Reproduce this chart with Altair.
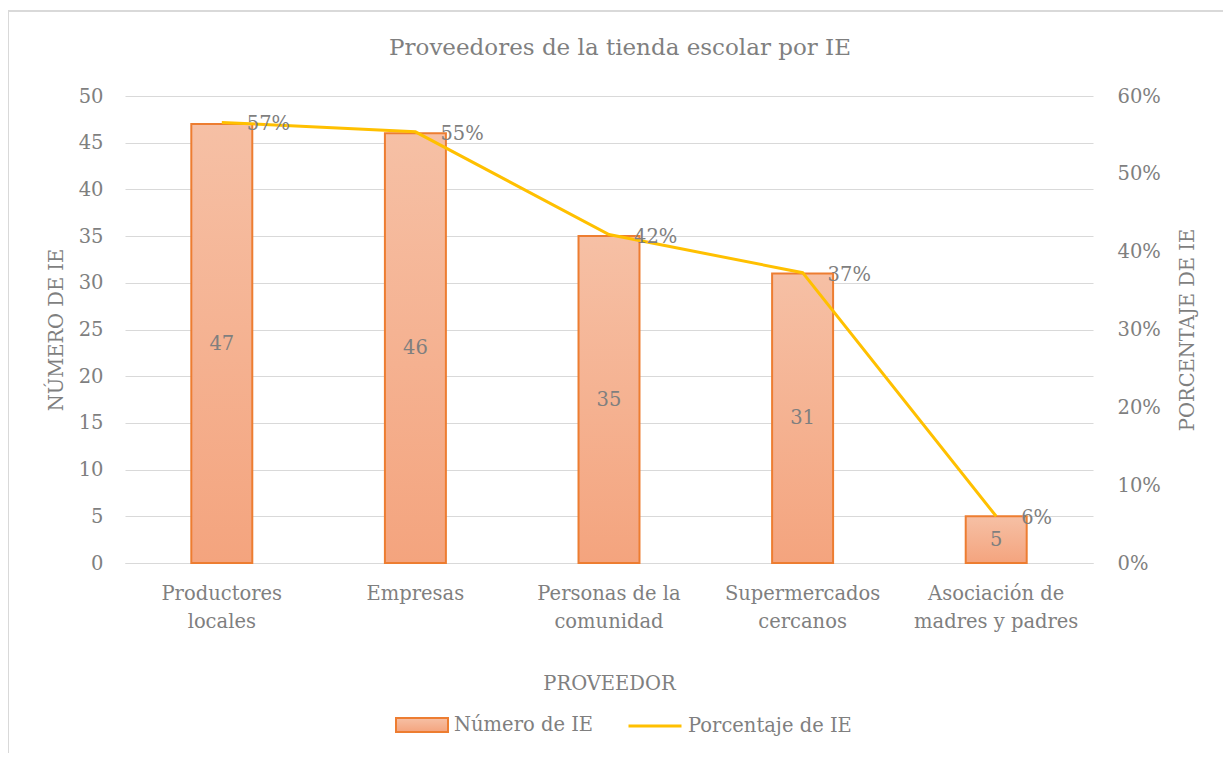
import altair as alt
import pandas as pd

categories = ["Productores locales", "Empresas", "Personas de la comunidad",
              "Supermercados cercanos", "Asociación de madres y padres"]
label_lines = [["Productores", "locales"], ["Empresas"], ["Personas de la", "comunidad"],
               ["Supermercados", "cercanos"], ["Asociación de", "madres y padres"]]
counts = [47, 46, 35, 31, 5]
percents = [0.566, 0.554, 0.422, 0.373, 0.060]
left_ticks = [0, 5, 10, 15, 20, 25, 30, 35, 40, 45, 50]
right_ticks = [0, 0.1, 0.2, 0.3, 0.4, 0.5, 0.6]

FONT = "DejaVu Serif"
GRAY = "#7F7F7F"
GRID = "#D9D9D9"
BAR_STROKE = "#ED7D31"
LINE_COLOR = "#FFC000"

df = pd.DataFrame({
    "proveedor": categories,
    "numero": counts,
    "porcentaje": percents,
    "s_bar": "Número de IE",
    "s_line": "Porcentaje de IE",
})

# build label expression for wrapped category labels
expr = "datum.label"
for cat, lines in reversed(list(zip(categories, label_lines))):
    arr = "[" + ",".join("'" + l + "'" for l in lines) + "]"
    expr = f"datum.value == '{cat}' ? {arr} : ({expr})"

x = alt.X("proveedor:N", sort=categories,
          scale=alt.Scale(paddingInner=0.685, paddingOuter=0.3425),
          axis=alt.Axis(title="PROVEEDOR", labelExpr=expr, labelAngle=0,
                        labelFont=FONT, labelFontSize=19.5, labelColor=GRAY,
                        labelLineHeight=28, labelPadding=21, labelBaseline="top",
                        ticks=False, domainColor=GRID, domainWidth=1,
                        titleFont=FONT, titleFontSize=19.5, titleColor=GRAY,
                        titleFontWeight="normal", titlePadding=44))

gradient = alt.Gradient(gradient="linear",
                        stops=[alt.GradientStop(color="#F6C0A5", offset=0),
                               alt.GradientStop(color="#F4A47E", offset=1)],
                        x1=0, x2=0, y1=0, y2=1)

y_left_scale = alt.Scale(domain=[0, 50])
y_left_axis = alt.Axis(title="NÚMERO DE IE", values=left_ticks, grid=True, gridColor=GRID,
                       domain=False, ticks=False, labelFont=FONT, labelFontSize=19.5,
                       labelColor=GRAY, labelPadding=22, titleFont=FONT, titleFontSize=19.5,
                       titleColor=GRAY, titleFontWeight="normal", titlePadding=12)

bars = alt.Chart(df).mark_bar(fill=gradient, strokeWidth=2).encode(
    x=x,
    y=alt.Y("numero:Q", scale=y_left_scale, axis=y_left_axis),
    stroke=alt.Stroke("s_bar:N", scale=alt.Scale(domain=["Número de IE"], range=[BAR_STROKE]),
                      legend=alt.Legend(title=None, orient="none", legendX=270, legendY=602,
                                        symbolType="M-1,-0.27L1,-0.27L1,0.27L-1,0.27Z",
                                        symbolSize=2704, symbolFillColor="#F5B596",
                                        symbolStrokeWidth=2, symbolOpacity=1,
                                        labelFont=FONT, labelFontSize=19.5, labelColor=GRAY,
                                        labelOffset=5, labelLimit=400)),
)

bar_text = alt.Chart(df).transform_calculate(mid="datum.numero / 2").mark_text(
    font=FONT, fontSize=19.5, color=GRAY, baseline="middle").encode(
    x=x,
    y=alt.Y("mid:Q", scale=y_left_scale, axis=y_left_axis),
    text=alt.Text("numero:Q"),
)

y_right_scale = alt.Scale(domain=[0, 0.6])
y_right_axis = alt.Axis(title="PORCENTAJE DE IE", orient="right", values=right_ticks,
                        format=".0%", grid=False, domain=False, ticks=False,
                        labelFont=FONT, labelFontSize=19.5, labelColor=GRAY, labelPadding=24,
                        titleFont=FONT, titleFontSize=19.5, titleColor=GRAY,
                        titleFontWeight="normal", titleAngle=-90, titlePadding=37)

line = alt.Chart(df).mark_line(strokeWidth=3).encode(
    x=x,
    y=alt.Y("porcentaje:Q", scale=y_right_scale, axis=y_right_axis),
    stroke=alt.Stroke("s_line:N", scale=alt.Scale(domain=["Porcentaje de IE"], range=[LINE_COLOR]),
                      legend=alt.Legend(title=None, orient="none", legendX=502, legendY=602,
                                        symbolType="stroke", symbolSize=2809,
                                        symbolStrokeWidth=3,
                                        labelFont=FONT, labelFontSize=19.5, labelColor=GRAY,
                                        labelOffset=5, labelLimit=400)),
)

line_text = alt.Chart(df).mark_text(font=FONT, fontSize=19.5, color=GRAY, align="left",
                                    baseline="middle", dx=25, dy=2).encode(
    x=x,
    y=alt.Y("porcentaje:Q", scale=y_right_scale, axis=y_right_axis),
    text=alt.Text("porcentaje:Q", format=".0%"),
)

frame = alt.Chart(df).mark_rect(fill="transparent", stroke=GRID, strokeWidth=2).encode(
    x=alt.value(-117), x2=alt.value(1120), y=alt.value(-85), y2=alt.value(680))

left = alt.layer(bars, bar_text)
right = alt.layer(line, line_text)

chart = alt.layer(frame, left, right).resolve_scale(
    y="independent", stroke="independent").resolve_legend(stroke="independent").properties(
    width=968, height=467,
    autosize=alt.AutoSizeParams(type="none"),
    padding={"left": 117, "top": 88, "right": 130, "bottom": 190},
    title=alt.TitleParams("Proveedores de la tienda escolar por IE", font=FONT, fontSize=23,
                          color=GRAY, fontWeight="normal", anchor="middle", frame="group",
                          dx=11, offset=-50),
).configure_view(stroke=None)

chart.save("out.html", embed_options={"renderer": "svg", "actions": False})
